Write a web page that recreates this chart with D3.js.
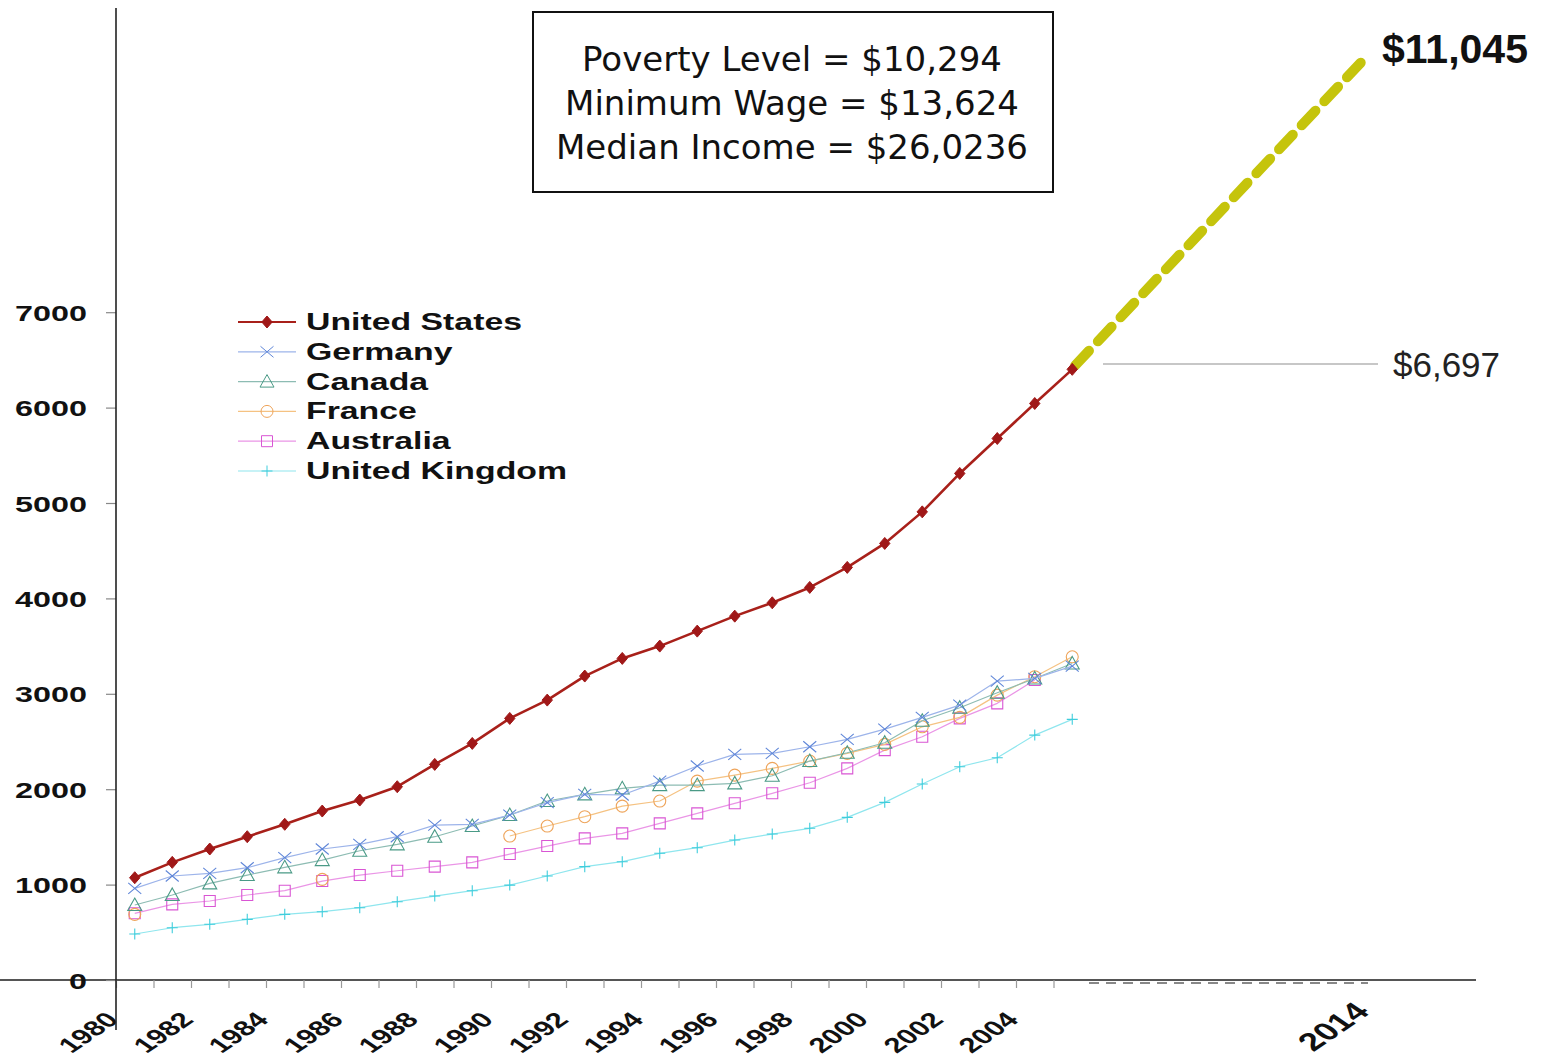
<!DOCTYPE html>
<html>
<head>
<meta charset="utf-8">
<script src="https://cdn.jsdelivr.net/npm/d3@7"></script>
<style>
  html, body { margin: 0; padding: 0; background: #fff; }
  svg { display: block; }
</style>
</head>
<body>
<script>
// ---------------- DATA ----------------
const years = d3.range(1980, 2006);
const seriesNames = ["United States", "Germany", "Canada", "France", "Australia", "United Kingdom"];
const usValues = [1072, 1233, 1373, 1502, 1632, 1771, 1886, 2026, 2260, 2480, 2742, 2934, 3186, 3371, 3500, 3657, 3814, 3954, 4115, 4325, 4576, 4907, 5310, 5676, 6043, 6401];
const germanyValues = [961, 1090, 1118, 1177, 1282, 1373, 1422, 1502, 1624, 1632, 1729, 1860, 1946, 1939, 2085, 2243, 2365, 2375, 2445, 2522, 2630, 2753, 2882, 3133, 3161, 3290];
const canadaValues = [786, 891, 1013, 1100, 1181, 1257, 1355, 1422, 1502, 1614, 1729, 1876, 1946, 2009, 2043, 2043, 2061, 2141, 2295, 2382, 2487, 2717, 2854, 3011, 3161, 3318];
const franceValues = [688, null, null, null, null, 1055, null, null, null, null, 1509, 1614, 1712, 1823, 1876, 2085, 2148, 2218, 2295, 2375, 2470, 2654, 2753, 2986, 3179, 3388];
const australiaValues = [699, 793, 828, 891, 936, 1037, 1100, 1145, 1188, 1233, 1320, 1404, 1485, 1537, 1642, 1747, 1852, 1957, 2068, 2218, 2410, 2550, 2742, 2900, 3144, null];
const ukValues = [482, 548, 584, 636, 688, 716, 758, 821, 880, 936, 995, 1090, 1188, 1240, 1328, 1387, 1467, 1530, 1590, 1705, 1862, 2054, 2235, 2330, 2567, 2732];
const yTickValues = [0, 1000, 2000, 3000, 4000, 5000, 6000, 7000];
const xLabelYears = [1980, 1982, 1984, 1986, 1988, 1990, 1992, 1994, 1996, 1998, 2000, 2002, 2004];
const projectionYears = [2005, 2014];
const projectionValues = [6401, 11045];
const projectionLabel = "$11,045";
const levelLabel = "$6,697";
const boxLines = ["Poverty Level = $10,294", "Minimum Wage = $13,624", "Median Income = $26,0236"];

// ---------------- STYLE ----------------
const W = 1549, H = 1058;
const S = 1.47; // horizontal stretch of bold labels
const styles = [
  {line: "#a8201a", mark: "#a01818", width: 2.6, shape: "diamond", fill: true},
  {line: "#9db4ea", mark: "#5f86d8", width: 1.2, shape: "x"},
  {line: "#8dbcb3", mark: "#4a9a86", width: 1.2, shape: "triangle"},
  {line: "#f5c282", mark: "#eea45a", width: 1.2, shape: "circle"},
  {line: "#ea95e6", mark: "#d955d4", width: 1.2, shape: "square"},
  {line: "#8fe6ee", mark: "#3fcddc", width: 1.2, shape: "plus"}
];
const allValues = [usValues, germanyValues, canadaValues, franceValues, australiaValues, ukValues];

function markerPath(shape) {
  switch (shape) {
    case "diamond": return "M0,-6L5.2,0L0,6L-5.2,0Z";
    case "x": return "M-6.5,-5.5L6.5,5.5M-6.5,5.5L6.5,-5.5";
    case "triangle": return "M0,-7L7,5.5L-7,5.5Z";
    case "circle": return "M6,0A6,6 0 1,1 -6,0A6,6 0 1,1 6,0Z";
    case "square": return "M-5.5,-5.5H5.5V5.5H-5.5Z";
    case "plus": return "M-5.5,0H5.5M0,-5.5V5.5";
  }
}

// ---------------- SCALES ----------------
const x = d3.scaleLinear().domain([1980, 2006]).range([116, 1091]);
const y = d3.scaleLinear().domain([0, 7000]).range([980, 312.2]);
const xp = d3.scaleLinear().domain(projectionYears).range([x(2005.5), 1368]);
const yp = d3.scaleLinear().domain(projectionValues).range([y(projectionValues[0]), 55]);

const svg = d3.select("body").append("svg").attr("width", W).attr("height", H)
  .style("font-family", "'Liberation Sans', Arial, sans-serif");

// ---------------- AXES ----------------
svg.append("line").attr("x1", 0).attr("x2", 1476).attr("y1", 980).attr("y2", 980)
  .attr("stroke", "#555").attr("stroke-width", 2);

const xAxis = d3.axisBottom(x).tickValues(d3.range(1980, 2006)).tickSize(8).tickSizeOuter(0).tickFormat("");
const gx = svg.append("g").attr("transform", "translate(0,980)").call(xAxis);
gx.select(".domain").remove();
gx.selectAll(".tick line").attr("stroke", "#999").attr("stroke-width", 1.2);

svg.append("line").attr("x1", x(2006) - 2).attr("x2", xp(2014)).attr("y1", 983).attr("y2", 983)
  .attr("stroke", "#888").attr("stroke-width", 2).attr("stroke-dasharray", "10,7");

svg.append("g").selectAll("text").data(xLabelYears).join("text")
  .attr("transform", d => `translate(${x(d) + 4},${1021}) scale(${S},1) rotate(-45)`)
  .attr("text-anchor", "end")
  .attr("font-size", 21).attr("font-weight", "bold").attr("fill", "#111")
  .text(d => d);
svg.append("text")
  .attr("transform", `translate(${xp(2014) + 3},${1013}) scale(${S},1) rotate(-45)`)
  .attr("text-anchor", "end")
  .attr("font-size", 25).attr("font-weight", "bold").attr("fill", "#111")
  .text(projectionYears[1]);

const yAxis = d3.axisLeft(y).tickValues(yTickValues).tickSize(10).tickSizeOuter(0).tickFormat(d => d);
const gy = svg.append("g").attr("transform", "translate(116,0)").call(yAxis);
gy.select(".domain").remove();
gy.selectAll(".tick line").attr("stroke", "#888").attr("stroke-width", 1.2);
gy.selectAll(".tick text")
  .attr("x", null).attr("dy", null)
  .attr("transform", `translate(-29,8) scale(${S},1)`)
  .attr("text-anchor", "end")
  .attr("font-size", 22).attr("font-weight", "bold").attr("fill", "#111")
  .attr("font-family", "'Liberation Sans', Arial, sans-serif");
svg.append("line").attr("x1", 116).attr("x2", 116).attr("y1", 8).attr("y2", 1030)
  .attr("stroke", "#222").attr("stroke-width", 1.6);

// ---------------- PROJECTION ----------------
svg.append("line")
  .attr("x1", xp(projectionYears[0]) + 3).attr("y1", yp(projectionValues[0]) - 4)
  .attr("x2", xp(projectionYears[1])).attr("y2", yp(projectionValues[1]))
  .attr("stroke", "#c5c40c").attr("stroke-width", 10)
  .attr("stroke-dasharray", "20,13").attr("stroke-linecap", "round");
svg.append("text")
  .attr("x", xp(projectionYears[1]) + 14).attr("y", yp(projectionValues[1]) + 8)
  .attr("font-size", 41).attr("font-weight", "bold").attr("fill", "#111")
  .text(projectionLabel);

svg.append("line").attr("x1", 1103).attr("x2", 1378).attr("y1", 364).attr("y2", 364)
  .attr("stroke", "#b5b5b5").attr("stroke-width", 1.6);
svg.append("text").attr("x", 1393).attr("y", 377)
  .attr("font-size", 35).attr("fill", "#222").text(levelLabel);

// ---------------- SERIES ----------------
const line = d3.line()
  .defined(d => d.v !== null)
  .x(d => x(d.year + 0.5)).y(d => y(d.v));

const drawOrder = [5, 4, 3, 2, 1, 0];
drawOrder.forEach(i => {
  const st = styles[i];
  const data = years.map((yr, k) => ({year: yr, v: allValues[i][k]}));
  const g = svg.append("g");
  g.append("path").datum(data).attr("d", line)
    .attr("fill", "none").attr("stroke", st.line).attr("stroke-width", st.width)
    .attr("stroke-linejoin", "round");
  g.selectAll("path.m").data(data.filter(d => d.v !== null)).join("path")
    .attr("class", "m")
    .attr("transform", d => `translate(${x(d.year + 0.5)},${y(d.v)})`)
    .attr("d", markerPath(st.shape))
    .attr("fill", st.fill ? st.mark : "none")
    .attr("stroke", st.mark).attr("stroke-width", st.fill ? 1 : 1.1);
});

// ---------------- LEGEND ----------------
const lg = svg.append("g");
seriesNames.forEach((name, i) => {
  const st = styles[i];
  const yy = 322 + i * 29.8;
  lg.append("line").attr("x1", 238).attr("x2", 296).attr("y1", yy).attr("y2", yy)
    .attr("stroke", st.line).attr("stroke-width", i === 0 ? 2.2 : 1.2);
  lg.append("path").attr("transform", `translate(267,${yy})`).attr("d", markerPath(st.shape))
    .attr("fill", st.fill ? st.mark : "none").attr("stroke", st.mark).attr("stroke-width", 1);
  lg.append("text").attr("transform", `translate(306,${yy + 8}) scale(${S},1)`)
    .attr("font-size", 23).attr("font-weight", "bold").attr("fill", "#111")
    .text(name);
});

// ---------------- INFO BOX ----------------
svg.append("rect").attr("x", 533).attr("y", 12).attr("width", 520).attr("height", 180)
  .attr("fill", "#fff").attr("stroke", "#111").attr("stroke-width", 2);
svg.append("g").selectAll("text").data(boxLines).join("text")
  .attr("x", 792).attr("y", (d, i) => 71 + i * 44)
  .attr("text-anchor", "middle")
  .attr("font-family", "'DejaVu Sans', Verdana, sans-serif")
  .attr("font-size", 34).attr("fill", "#111")
  .text(d => d);
</script>
</body>
</html>
